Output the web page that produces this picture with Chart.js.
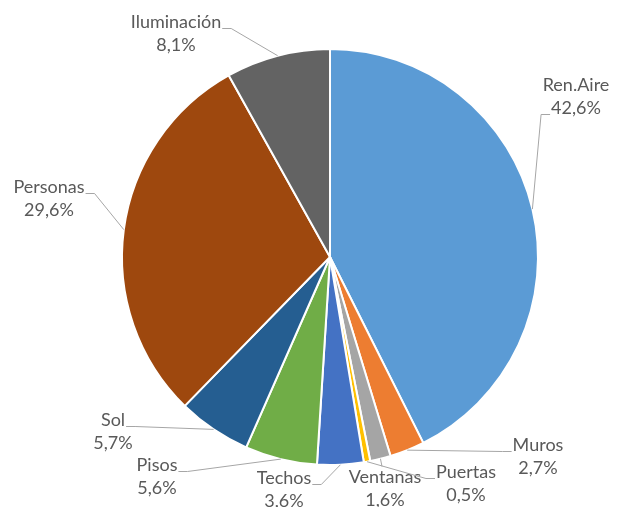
<!DOCTYPE html>
<html lang="es">
<head>
    <meta charset="UTF-8">
    <title>Cargas térmicas</title>
    <style>
        html, body { margin: 0; padding: 0; background: #ffffff; }
        #pieChart { display: block; }
    </style>
</head>
<body>

<canvas id="pieChart" width="618" height="507"></canvas>

<script src="https://cdn.jsdelivr.net/npm/chart.js"></script>
<script>
// Datos del gráfico
const categories = ['Ren.Aire', 'Muros', 'Ventanas', 'Puertas', 'Techos', 'Pisos', 'Sol', 'Personas', 'Iluminación'];
const values = [42.6, 2.7, 1.6, 0.5, 3.6, 5.6, 5.7, 29.6, 8.1];
const colors = ['#5b9bd5', '#ed7d31', '#a5a5a5', '#ffc000', '#4472c4', '#70ad47', '#255e91', '#9e480e', '#636363'];

// Posición de las etiquetas respecto al centro del pastel (dx, dy del bloque de texto)
const labelLayout = [
    { dx: 246, dy: -160, side: 'left', line: 1 },
    { dx: 208, dy: 200, side: 'left', line: 0 },
    { dx: 55, dy: 232, side: 'top', line: 0 },
    { dx: 136, dy: 227, side: 'left', line: 0 },
    { dx: -46, dy: 233, side: 'right', line: 0 },
    { dx: -173, dy: 220, side: 'right', line: 0 },
    { dx: -217, dy: 175, side: 'right', line: 0 },
    { dx: -281, dy: -58, side: 'right', line: 0 },
    { dx: -154, dy: -223, side: 'right', line: 0 }
];

const LINE_H = 23;
const FONT = '18px Lato';

function formatPct(v, total) {
    return (v / total * 100).toFixed(1).replace('.', ',') + '%';
}

const leaderLabels = {
    id: 'leaderLabels',
    afterDatasetsDraw(chart) {
        const ctx = chart.ctx;
        const meta = chart.getDatasetMeta(0);
        const total = values.reduce((a, b) => a + b, 0);
        ctx.save();
        ctx.font = FONT;
        ctx.textAlign = 'center';
        ctx.textBaseline = 'middle';
        meta.data.forEach((arc, i) => {
            const p = arc.getProps(['x', 'y', 'startAngle', 'endAngle', 'outerRadius'], true);
            const mid = (p.startAngle + p.endAngle) / 2;
            const tx = p.x + Math.cos(mid) * p.outerRadius;
            const ty = p.y + Math.sin(mid) * p.outerRadius;
            const lay = labelLayout[i];
            const cx = p.x + lay.dx;
            const cy = p.y + lay.dy;
            const lines = [categories[i], formatPct(values[i], total)];
            const ys = [cy - LINE_H / 2, cy + LINE_H / 2];

            // línea guía
            ctx.beginPath();
            ctx.strokeStyle = '#a6a6a6';
            ctx.lineWidth = 1;
            if (lay.side === 'top') {
                ctx.moveTo(cx - 3, ys[0] - 11);
                ctx.lineTo(tx, ty);
            } else {
                const w = ctx.measureText(lines[lay.line]).width;
                const ly = ys[lay.line] + 6;
                const ax = lay.side === 'left' ? cx - w / 2 - 1 : cx + w / 2 + 1;
                const tail = lay.side === 'left' ? ax - 9 : ax + 9;
                ctx.moveTo(ax, ly);
                ctx.lineTo(tail, ly);
                ctx.lineTo(tx, ty);
            }
            ctx.stroke();

            ctx.fillStyle = '#595959';
            ctx.fillText(lines[0], cx, ys[0]);
            ctx.fillText(lines[1], cx, ys[1]);
        });
        ctx.restore();
    }
};

new Chart(document.getElementById('pieChart'), {
    type: 'pie',
    data: {
        labels: categories,
        datasets: [{
            data: values,
            backgroundColor: colors,
            borderColor: '#ffffff',
            borderWidth: 2
        }]
    },
    options: {
        responsive: false,
        animation: false,
        layout: {
            padding: { left: 121, right: 79, top: 48, bottom: 41 }
        },
        plugins: {
            legend: { display: false },
            tooltip: { enabled: false }
        }
    },
    plugins: [leaderLabels]
});
</script>

</body>
</html>
